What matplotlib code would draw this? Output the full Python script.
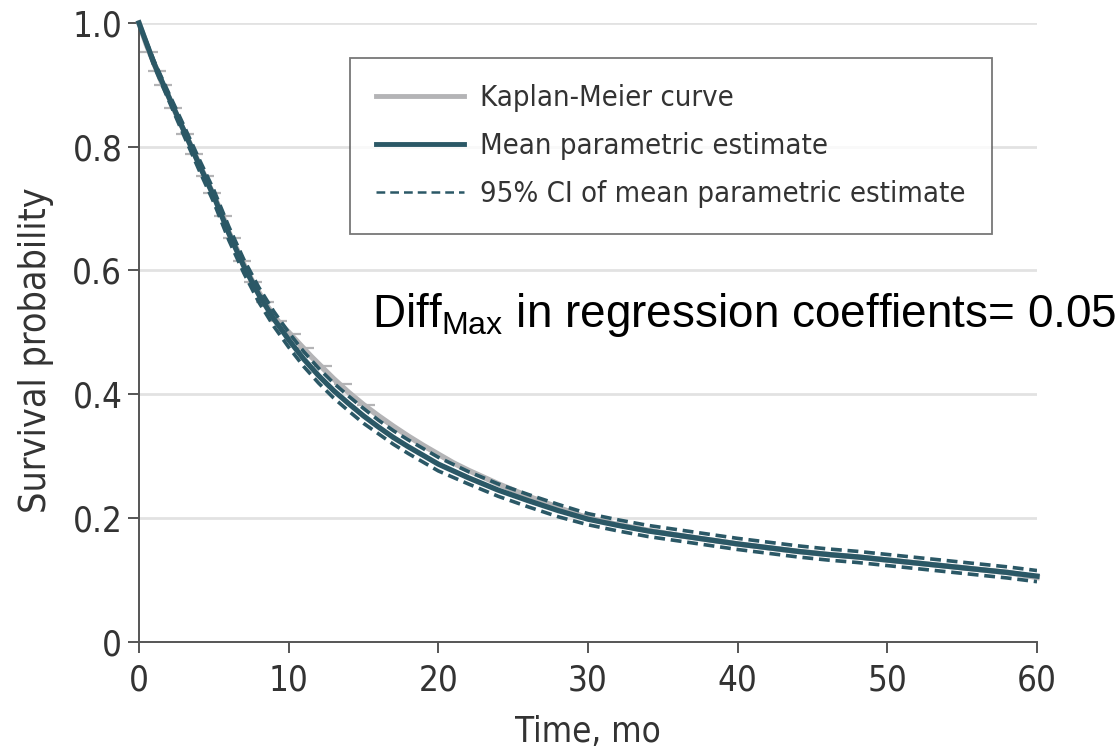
import matplotlib
matplotlib.use("Agg")
import matplotlib.pyplot as plt
from matplotlib import font_manager
from matplotlib.lines import Line2D

## Data: survival by month
km_time = [0, 0.5, 1, 1.5, 2, 2.5, 3, 3.5, 4, 4.5, 5, 5.5, 6, 6.5, 7, 7.5, 8, 8.5,
           9, 9.5, 10, 10.5, 11, 11.5, 12, 12.5, 13, 13.5, 14, 14.5, 15, 16, 17,
           18, 19, 20, 21, 22, 23, 24, 25, 26, 27, 28, 29, 30, 32, 34, 36, 38,
           40, 42, 44, 46, 48, 50, 52, 54, 56, 58, 60]
km_surv = [1.000, 0.965, 0.935, 0.905, 0.880, 0.852, 0.826, 0.800, 0.773, 0.747,
           0.721, 0.694, 0.662, 0.636, 0.610, 0.586, 0.565, 0.545, 0.527, 0.512,
           0.500, 0.487, 0.474, 0.461, 0.449, 0.437, 0.425, 0.414, 0.403, 0.393,
           0.383, 0.365, 0.348, 0.332, 0.317, 0.303, 0.289, 0.277, 0.266, 0.255,
           0.245, 0.235, 0.226, 0.217, 0.208, 0.200, 0.189, 0.180, 0.172, 0.165,
           0.158, 0.152, 0.146, 0.141, 0.137, 0.132, 0.127, 0.122, 0.117, 0.112,
           0.104]

## Censored observations on the Kaplan-Meier curve
censor_time = [0.7, 1.2, 1.6, 2.3, 3.1, 3.7, 4.4, 4.9, 5.6, 6.2, 6.9, 7.6, 8.4,
               9.3, 10.2, 11.1, 12.3, 13.6, 15.2]
censor_surv = [0.953, 0.923, 0.900, 0.863, 0.821, 0.789, 0.752, 0.726, 0.688, 0.652,
               0.615, 0.582, 0.549, 0.518, 0.497, 0.474, 0.446, 0.416, 0.383]

param_time = [0, 1, 2, 3, 4, 5, 6, 7, 8, 9, 10, 11, 12, 13, 14, 15, 16, 17, 18,
              19, 20, 22, 24, 26, 28, 30, 32, 34, 36, 38, 40, 42, 44, 46, 48, 50,
              52, 54, 56, 58, 60]
param_mean = [1.000, 0.935, 0.880, 0.826, 0.772, 0.720, 0.660, 0.607, 0.561, 0.522,
              0.488, 0.457, 0.430, 0.406, 0.385, 0.365, 0.347, 0.330, 0.315, 0.301,
              0.287, 0.265, 0.245, 0.228, 0.212, 0.198, 0.188, 0.179, 0.172, 0.165,
              0.158, 0.152, 0.146, 0.141, 0.137, 0.132, 0.127, 0.122, 0.117, 0.112,
              0.106]
param_lower = [1.000, 0.931, 0.874, 0.818, 0.763, 0.710, 0.649, 0.596, 0.549, 0.510,
               0.476, 0.445, 0.418, 0.394, 0.373, 0.353, 0.336, 0.319, 0.304, 0.290,
               0.276, 0.255, 0.235, 0.218, 0.202, 0.189, 0.179, 0.170, 0.163, 0.156,
               0.149, 0.143, 0.137, 0.132, 0.128, 0.123, 0.118, 0.113, 0.108, 0.103,
               0.097]
param_upper = [1.000, 0.939, 0.886, 0.834, 0.781, 0.730, 0.671, 0.618, 0.573, 0.534,
               0.500, 0.469, 0.442, 0.418, 0.397, 0.377, 0.358, 0.341, 0.326, 0.312,
               0.298, 0.275, 0.255, 0.238, 0.222, 0.207, 0.197, 0.188, 0.181, 0.174,
               0.167, 0.161, 0.155, 0.150, 0.146, 0.141, 0.136, 0.131, 0.126, 0.121,
               0.115]

y_ticks = [0, 0.2, 0.4, 0.6, 0.8, 1.0]
y_ticklabels = ["0", "0.2", "0.4", "0.6", "0.8", "1.0"]
x_ticks = [0, 10, 20, 30, 40, 50, 60]

## Style
TEAL = "#2b5866"
KM_GRAY = "#b4b4b6"
AXIS_GRAY = "#555555"
TEXT_GRAY = "#333333"

NARROW_PREFS = ["liberationsansnarrow-regular", "dejavusanscondensed.ttf",
                "notosans-condensed.", "robotocondensed-regular",
                "opensans-condensed", "opensanscondensed"]


def find_narrow_font():
    ## First installed regular condensed sans face from the list above
    found = {}
    for entry in font_manager.fontManager.ttflist:
        fname = entry.fname.lower().replace(" ", "").split("/")[-1]
        for pref in NARROW_PREFS:
            if fname.startswith(pref):
                found[pref] = entry
    for pref in NARROW_PREFS:
        if pref in found:
            return found[pref]
    return None


narrow = find_narrow_font()
if narrow is not None:
    TEXT_FONT = font_manager.FontProperties(fname=narrow.fname)
    NARROW_SCALE = 1.0
else:
    TEXT_FONT = font_manager.FontProperties(family="Roboto")
    NARROW_SCALE = 0.9
plt.rcParams["mathtext.fontset"] = "custom"
plt.rcParams["mathtext.rm"] = "Liberation Sans"


def text_font(size):
    fp = TEXT_FONT.copy()
    fp.set_size(size * NARROW_SCALE)
    return fp


fig = plt.figure(figsize=(11.2, 7.56), dpi=100)
ax = fig.add_axes([0.1241, 0.1512, 0.8018, 0.8184])

## Grid lines
for yv in y_ticks[1:]:
    ax.axhline(yv, color="#e2e2e2", lw=2, zorder=0)

## Curves
ax.plot(km_time, km_surv, color=KM_GRAY, lw=4.0, zorder=2, clip_on=False)
ax.plot(censor_time, censor_surv, ls="none", marker="_", ms=13, mew=1.6,
        color=KM_GRAY, zorder=2)
ax.plot(param_time, param_lower, color=TEAL, lw=2.6, dashes=(3.0, 1.6), zorder=3)
ax.plot(param_time, param_upper, color=TEAL, lw=2.6, dashes=(3.0, 1.6), zorder=3)
ax.plot(param_time, param_mean, color=TEAL, lw=3.8, zorder=4, clip_on=False)

## Axes
ax.set_xlim(0, 60)
ax.set_ylim(0, 1)
for side in ["top", "right"]:
    ax.spines[side].set_visible(False)
for side in ["left", "bottom"]:
    ax.spines[side].set_color(AXIS_GRAY)
    ax.spines[side].set_linewidth(1.4)
ax.set_xticks(x_ticks)
ax.set_yticks(y_ticks)
ax.set_yticklabels(y_ticklabels)
ax.tick_params(axis="both", direction="out", length=8, width=1.4, color=AXIS_GRAY,
               labelcolor=TEXT_GRAY)
ax.tick_params(axis="x", pad=8)
ax.tick_params(axis="y", pad=4)
for lab in ax.get_xticklabels() + ax.get_yticklabels():
    lab.set_fontproperties(text_font(25))
ax.set_xlabel("Time, mo", fontproperties=text_font(25), color=TEXT_GRAY, labelpad=12)
ax.set_ylabel("Survival probability", fontproperties=text_font(27), color=TEXT_GRAY,
              va="center")
ax.yaxis.set_label_coords(-0.1147, 0.471)

## Legend
handles = [
    Line2D([], [], color=KM_GRAY, lw=3.5),
    Line2D([], [], color=TEAL, lw=3.5),
    Line2D([], [], color=TEAL, lw=1.8, dashes=(3.5, 2.0)),
]
labels = ["Kaplan-Meier curve", "Mean parametric estimate",
          "95% CI of mean parametric estimate"]
leg = ax.legend(handles, labels, loc="upper left", bbox_to_anchor=(0.235, 0.943),
                prop=text_font(21), frameon=True, fancybox=False,
                handlelength=3.0, handletextpad=0.55, labelspacing=0.68,
                borderpad=0.9, borderaxespad=0)
leg.get_frame().set_edgecolor(AXIS_GRAY)
leg.get_frame().set_linewidth(1.3)
for txt in leg.get_texts():
    txt.set_color(TEXT_GRAY)

## Annotation
ax.text(0.2595, 0.5087, r"Diff$_{\mathrm{Max}}$ in regression coeffients= 0.05",
        transform=ax.transAxes, fontsize=33, family="Liberation Sans",
        color="black", ha="left", va="baseline")

fig.savefig("out.png", dpi=100)
